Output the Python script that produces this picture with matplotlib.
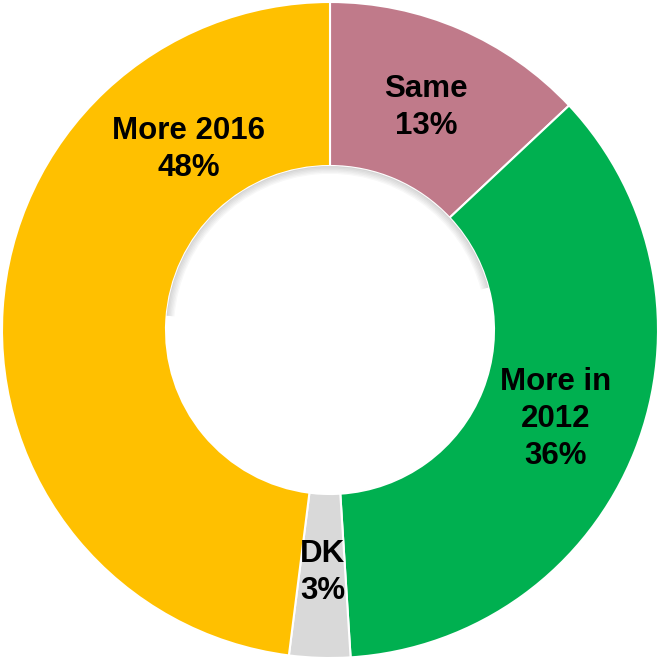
import numpy as np
import matplotlib.pyplot as plt
from matplotlib.patches import Wedge

labels = ['Same', 'More in\n2012', 'DK', 'More 2016']
shares = [13, 36, 3, 48]
colors = ['#C07A8A', '#00B050', '#D9D9D9', '#FFC000']

plt.rcParams['font.family'] = ['Liberation Sans', 'DejaVu Sans']

fig = plt.figure(figsize=(6.59, 6.62), dpi=100)
ax = fig.add_axes([0, 0, 1, 1])

wedges, _ = ax.pie(shares, colors=colors, startangle=90, counterclock=False,
                   radius=1.0, wedgeprops=dict(width=0.5, edgecolor='white', linewidth=1.5))

# soft shadow just inside the hole, along its upper edge
for i in range(6):
    ax.add_patch(Wedge((0, 0), 0.5 - i * 0.004, 15, 175, width=0.004,
                       facecolor='#888888', edgecolor='none',
                       alpha=0.35 * (1 - i / 6), zorder=3))

for w, lab, val in zip(wedges, labels, shares):
    text = lab + '\n' + str(val) + '%'
    if lab == 'More 2016':
        # Excel-style label sits up toward the top-left
        x, y = -0.43, 0.55
    else:
        ang = np.deg2rad((w.theta1 + w.theta2) / 2)
        x, y = 0.74 * np.cos(ang), 0.74 * np.sin(ang)
    ax.text(x, y, text, ha='center', va='center', fontsize=22.5,
            fontweight='bold', linespacing=1.3, zorder=4)

ax.set_xlim(-330 / 328, 329 / 328)
ax.set_ylim(-332 / 328, 330 / 328)
ax.axis('off')

fig.savefig('out.png', dpi=100)
